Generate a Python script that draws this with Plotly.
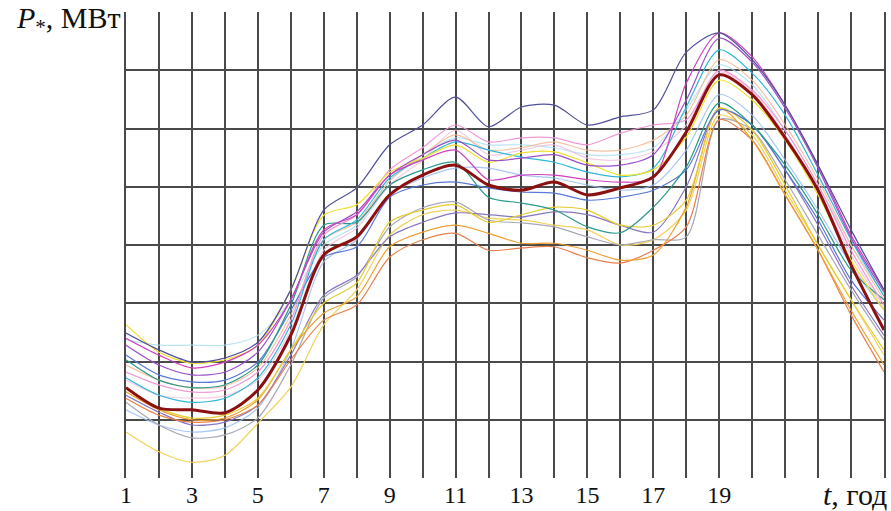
import plotly.graph_objects as go

hours = list(range(1, 25))
tick_labels = ["1", "", "3", "", "5", "", "7", "", "9", "", "11", "", "13", "", "15", "", "17", "", "19", "", "", "", "", ""]

navy = [2.49, 2.20, 1.99, 2.06, 2.33, 3.23, 4.60, 4.98, 5.72, 6.06, 6.54, 6.03, 6.37, 6.40, 6.06, 6.20, 6.32, 7.31, 7.64, 7.18, 6.40, 5.37, 4.26, 3.23]
magenta = [2.40, 2.11, 1.89, 1.99, 2.28, 3.06, 4.26, 4.52, 5.20, 5.46, 5.63, 5.12, 5.20, 5.20, 5.12, 5.08, 5.15, 6.78, 7.64, 7.23, 6.40, 5.37, 4.17, 3.23]
yellow = [2.63, 2.16, 1.97, 2.03, 2.28, 3.23, 4.51, 4.69, 5.25, 5.49, 5.72, 5.42, 5.58, 5.60, 5.41, 5.20, 5.29, 5.85, 6.83, 6.49, 5.80, 4.86, 3.74, 2.88]
cyan = [1.72, 1.42, 1.30, 1.37, 1.72, 2.63, 4.09, 4.43, 5.15, 5.49, 5.77, 5.63, 5.51, 5.42, 5.25, 5.17, 5.32, 6.37, 7.35, 6.95, 6.23, 5.20, 4.09, 3.12]
teal = [2.03, 1.68, 1.55, 1.60, 1.94, 2.97, 4.34, 4.39, 5.03, 5.29, 5.42, 4.82, 4.72, 4.60, 4.31, 4.21, 4.65, 5.34, 6.44, 6.06, 5.37, 4.52, 3.57, 3.06]
blue = [2.11, 1.77, 1.65, 1.68, 1.99, 2.88, 3.79, 3.97, 4.82, 5.03, 5.08, 4.98, 4.91, 4.89, 4.77, 4.82, 4.94, 5.29, 6.32, 6.06, 5.29, 4.43, 3.40, 2.71]
pink = [1.82, 1.60, 1.48, 1.51, 1.82, 2.71, 4.17, 4.52, 5.29, 5.67, 6.06, 5.77, 5.84, 5.84, 5.72, 5.92, 6.06, 6.15, 7.00, 6.66, 5.97, 5.03, 3.91, 2.97]
peach = [1.94, 1.68, 1.55, 1.58, 1.89, 2.80, 4.09, 4.39, 5.10, 5.55, 5.89, 5.63, 5.67, 5.77, 5.63, 5.63, 5.80, 6.23, 7.18, 6.83, 6.06, 5.12, 4.00, 3.06]
lavender = [1.42, 1.13, 0.91, 0.96, 1.25, 2.11, 3.14, 3.48, 4.14, 4.39, 4.55, 4.52, 4.48, 4.57, 4.52, 4.34, 4.22, 5.00, 6.32, 6.06, 5.29, 4.34, 3.31, 2.45]
yellow_low = [1.55, 1.20, 1.03, 1.08, 1.37, 2.20, 3.00, 3.35, 4.39, 4.60, 4.69, 4.39, 4.52, 4.65, 4.60, 4.34, 4.34, 4.77, 6.35, 5.97, 5.03, 4.00, 3.06, 2.20]
gray = [1.30, 0.91, 0.69, 0.74, 1.03, 1.94, 3.09, 3.45, 4.31, 4.64, 4.74, 4.43, 4.38, 4.31, 4.14, 4.00, 4.09, 4.14, 6.15, 5.97, 5.12, 4.17, 3.23, 2.37]
orange = [1.48, 1.17, 1.00, 1.03, 1.34, 2.20, 2.83, 3.11, 3.97, 4.22, 4.34, 4.20, 4.03, 4.03, 3.91, 3.74, 3.83, 4.65, 6.35, 5.80, 4.86, 3.91, 2.88, 1.94]
orange2 = [1.37, 1.08, 0.96, 1.00, 1.25, 2.03, 2.71, 2.97, 3.79, 4.09, 4.20, 3.91, 3.95, 3.97, 3.78, 3.69, 3.91, 4.31, 6.15, 5.80, 4.86, 3.91, 2.80, 1.82]
yellow_pale = [0.79, 0.45, 0.27, 0.39, 0.94, 1.56, 2.63, 3.23, 4.17, 4.52, 4.60, 4.46, 4.43, 4.34, 4.26, 4.00, 4.09, 4.60, 6.23, 5.89, 4.94, 4.00, 3.06, 2.11]
light_blue = [1.17, 0.91, 0.79, 0.86, 1.20, 2.20, 3.71, 4.09, 4.86, 5.15, 5.32, 5.32, 5.20, 5.15, 5.03, 4.94, 5.03, 5.63, 6.58, 6.23, 5.46, 4.60, 3.66, 2.88]
pale_cyan = [2.37, 2.28, 2.28, 2.28, 2.45, 3.06, 4.00, 4.34, 5.10, 5.55, 5.84, 5.72, 5.72, 5.67, 5.55, 5.55, 5.67, 6.32, 7.09, 6.75, 5.97, 5.03, 4.00, 3.14]
light_pink = [1.68, 1.42, 1.37, 1.41, 1.68, 2.54, 3.91, 4.29, 5.03, 5.46, 5.97, 5.55, 5.63, 5.72, 5.49, 5.46, 5.60, 6.06, 6.97, 6.63, 5.89, 4.94, 3.83, 2.92]
purple = [2.28, 1.94, 1.77, 1.82, 2.16, 3.06, 4.22, 4.57, 5.20, 5.55, 5.80, 5.46, 5.49, 5.55, 5.37, 5.37, 5.55, 6.49, 7.55, 7.14, 6.35, 5.32, 4.12, 3.19]
mean_load = [1.55, 1.20, 1.17, 1.12, 1.51, 2.45, 3.83, 4.14, 4.86, 5.20, 5.37, 5.03, 4.94, 5.08, 4.86, 4.98, 5.17, 5.94, 6.92, 6.58, 5.84, 4.94, 3.66, 2.54]

series = [
    (pale_cyan, "rgba(170,220,240,0.8)"),
    (light_pink, "rgba(240,190,220,0.8)"),
    (peach, "rgba(245,185,150,0.85)"),
    (light_blue, "rgba(150,190,240,0.85)"),
    (yellow_pale, "#f2d25a"),
    (gray, "#a8a8b8"),
    (lavender, "#8878c0"),
    (orange2, "#e8804e"),
    (orange, "#f0a030"),
    (yellow_low, "#e6cc2e"),
    (blue, "#5a78d8"),
    (teal, "#2a9a8a"),
    (pink, "#ee9ad6"),
    (cyan, "#30b8d8"),
    (yellow, "#f0e030"),
    (purple, "#9a50c8"),
    (magenta, "#d040c0"),
    (navy, "#50509a"),
]

fig = go.Figure()
for vals, col in series:
    fig.add_trace(go.Scatter(x=hours, y=vals, mode="lines",
                             line=dict(color=col, width=1.2, shape="spline", smoothing=0.8),
                             showlegend=False, hoverinfo="skip"))
fig.add_trace(go.Scatter(x=hours, y=mean_load, mode="lines",
                         line=dict(color="#8b1010", width=3, shape="spline", smoothing=0.8),
                         showlegend=False))

grid_col = "#4a4a4a"
serif = "Liberation Serif, Times New Roman, serif"
fig.update_layout(
    width=891, height=511,
    margin=dict(l=126, r=7, t=12, b=33, autoexpand=False),
    paper_bgcolor="white", plot_bgcolor="white",
    font=dict(family=serif, color="#111"),
    xaxis=dict(range=[1, 24], tickvals=hours, ticktext=tick_labels,
               showgrid=True, gridcolor=grid_col, gridwidth=1.6,
               zeroline=False, showline=False, ticks="",
               tickfont=dict(size=24, family=serif, color="#111")),
    yaxis=dict(range=[0, 8], tickvals=[1, 2, 3, 4, 5, 6, 7, 8],
               showticklabels=False, showgrid=True, gridcolor=grid_col, gridwidth=1.6,
               zeroline=False, showline=True, linecolor=grid_col, linewidth=1.6, mirror=True,
               ticks=""),
    annotations=[
        dict(text="<i>P</i><sub>*</sub>, МВт", xref="paper", yref="paper",
             x=0, y=1, xshift=-3, yshift=-8, xanchor="right", yanchor="middle", showarrow=False,
             font=dict(size=30, family=serif, color="#111")),
        dict(text="<i>t</i>, год", xref="paper", yref="paper",
             x=1, y=0, xshift=5, yshift=-16, xanchor="right", yanchor="middle", showarrow=False,
             font=dict(size=30, family=serif, color="#111")),
    ],
)

fig.write_html("out.html", config={"displayModeBar": False},
               post_script="document.body.style.margin='0';document.body.style.overflow='hidden';")
